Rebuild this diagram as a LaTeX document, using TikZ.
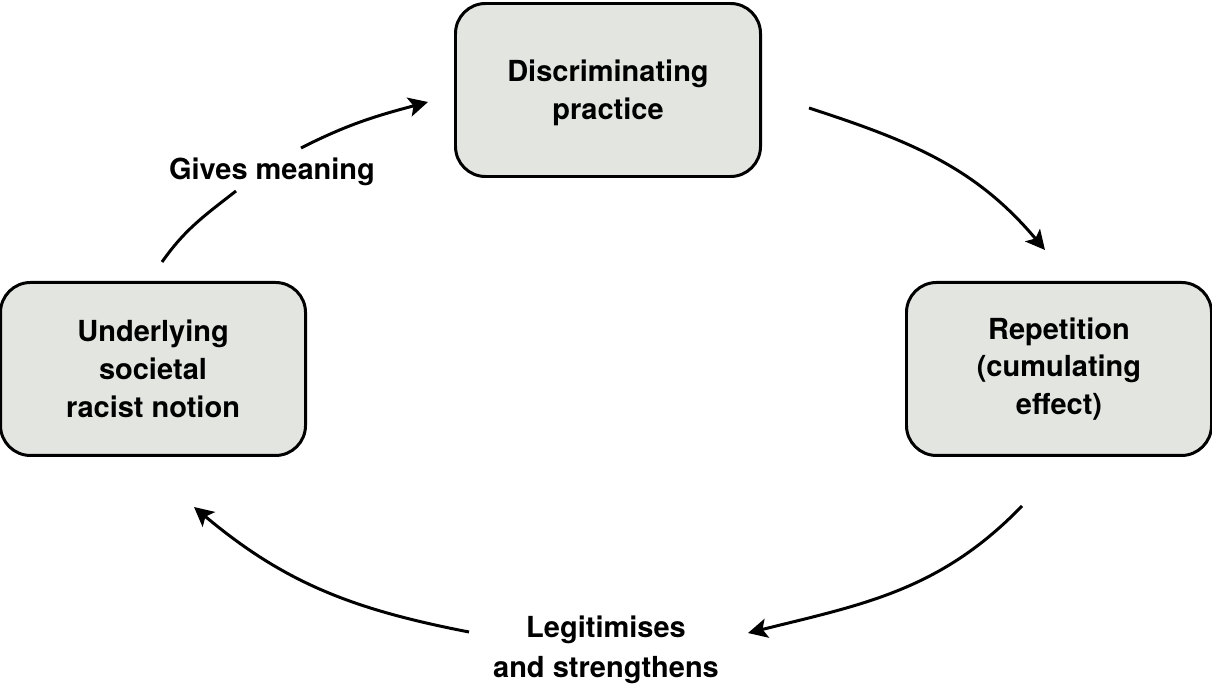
\documentclass[tikz,border=0pt]{standalone}
\usepackage{fontspec}
\setmainfont{TeX Gyre Heros}
\definecolor{boxgrey}{RGB}{226,229,224}
\usepackage{tikz}
\usetikzlibrary{arrows.meta,positioning}

\begin{document}
\begin{tikzpicture}[node distance=2cm,>={Stealth[length=11pt,width=11pt,inset=2.5pt]},
  block/.style={rectangle,rounded corners=0.6cm,draw,line width=1.7pt,align=center,fill=boxgrey,minimum width=6.1cm,minimum height=3.46cm,font=\bfseries\fontsize{16.5}{21.5}\selectfont},
  tag/.style={align=center,inner sep=0pt,font=\bfseries\fontsize{16.5}{22.5}\selectfont},
  arrow/.style={->,line width=1.7pt}]
  \useasboundingbox (0,0) rectangle (24.24,-13.74);

  \node[block,text depth=0pt] (practice) at (12.16,-1.80) {Discriminating\\practice};
  \node[block,below left=2.06cm and 2.94cm of practice] (notion) {Underlying\\societal\\racist notion};
  \node[block,below right=2.06cm and 2.86cm of practice] (repeat) {Repetition\\(cumulating\\effect)};
  \node[tag] (gives) at (5.44,-3.44) {Gives meaning};
  \node[tag] (legit) at (12.12,-13.00) {Legitimises\\and strengthens};

  \draw[line width=1.7pt] ([shift={(0.18,0.38)}]notion.north) to[out=55,in=218] ([shift={(-0.72,-0.38)}]gives.center);
  \draw[arrow] ([shift={(0.58,0.48)}]gives.center) to[out=27,in=195] ([shift={(-0.52,-0.24)}]practice.west);
  \draw[arrow] ([shift={(0.94,-0.36)}]practice.east) to[out=-18,in=130] ([shift={(-0.28,0.62)}]repeat.north);
  \draw[arrow] ([shift={(-0.74,-0.98)}]repeat.south) to[out=226,in=14] ([shift={(2.84,0.34)}]legit.center);
  \draw[arrow] ([shift={(-2.74,0.36)}]legit.center) to[out=169,in=-40] ([shift={(0.82,-1.00)}]notion.south);
\end{tikzpicture}
\end{document}
